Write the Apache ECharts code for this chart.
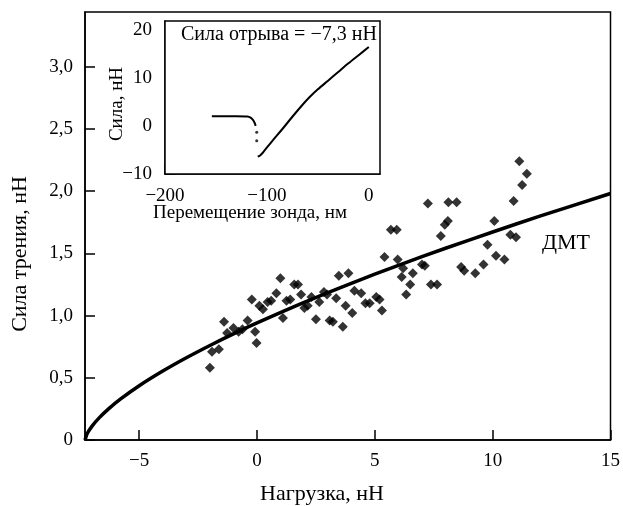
<!DOCTYPE html>
<html>
<head>
<meta charset="utf-8">
<script src="https://cdn.jsdelivr.net/npm/echarts@6/dist/echarts.min.js"></script>
<style>html,body{margin:0;padding:0;background:#fff}#c{width:623px;height:506px}</style>
</head>
<body>
<div id="c"></div>
<script>
// ---- main plot data ----
const dmtX = [-7.3, -7.2, -7.0, -6.7, -6.3, -5.8, -5.0, -4.0, -3.0, -2.0, -1.0, 0, 2, 4, 6, 8, 10, 12, 15];
const dmtY = [0, 0.054, 0.112, 0.178, 0.25, 0.328, 0.436, 0.554, 0.661, 0.760, 0.853, 0.941, 1.106, 1.259, 1.404, 1.541, 1.672, 1.799, 1.981];

const loadX = [-2.00, -1.91, -1.62, -1.40, -1.27, -1.00, -0.78, -0.62, -0.40, -0.22, -0.08, -0.02, 0.10, 0.25, 0.45, 0.60, 0.82, 0.99, 1.10, 1.25,
  1.41, 1.58, 1.74, 1.87, 2.01, 2.15, 2.31, 2.50, 2.64, 2.84, 2.97, 3.08, 3.22, 3.36, 3.47, 3.64, 3.76, 3.88, 4.04, 4.13,
  4.42, 4.60, 4.78, 5.06, 5.20, 5.30, 5.41, 5.68, 5.93, 5.97, 6.20, 6.14, 6.61, 6.50, 6.33, 7.00, 7.12, 7.25, 7.38, 7.64,
  7.80, 7.97, 8.10, 8.12, 8.47, 8.66, 8.79, 9.26, 9.61, 9.78, 10.07, 10.14, 10.50, 10.75, 10.99, 10.89, 11.25, 11.13, 11.45];
const frictionY = [0.58, 0.71, 0.73, 0.95, 0.86, 0.90, 0.87, 0.89, 0.96, 1.13, 0.87, 0.78, 1.08, 1.05, 1.11, 1.12, 1.18, 1.30, 0.98, 1.12,
  1.13, 1.25, 1.25, 1.17, 1.06, 1.08, 1.15, 0.97, 1.11, 1.19, 1.17, 0.96, 0.95, 1.14, 1.32, 0.91, 1.08, 1.34, 1.02, 1.20,
  1.18, 1.10, 1.10, 1.15, 1.13, 1.04, 1.47, 1.69, 1.69, 1.45, 1.38, 1.31, 1.34, 1.25, 1.17, 1.41, 1.40, 1.90, 1.25, 1.25,
  1.64, 1.73, 1.76, 1.91, 1.91, 1.39, 1.36, 1.34, 1.41, 1.57, 1.76, 1.48, 1.45, 1.65, 1.63, 1.92, 2.05, 2.24, 2.14];

// ---- inset data ----
const approachX = [-154, -130, -119, -116, -113.5, -112, -111];
const approachY = [2.0, 2.0, 1.95, 1.7, 1.2, 0.6, 0];
const jumpX = [-110, -110];
const jumpY = [-1.3, -3.1];
const retractX = [-109, -107, -105, -103, -95, -85, -75, -65, -58, -50, -40, -30, -20, -10, 0];
const retractY = [-6.4, -6.2, -5.8, -5.3, -3.2, -0.7, 1.9, 4.4, 6.0, 7.6, 9.4, 11.2, 13.0, 14.7, 16.4];

// ---- ticks ----
const mainXTicks = [-5, 0, 5, 10, 15];
const mainYTicks = [0, 0.5, 1.0, 1.5, 2.0, 2.5, 3.0];
const insetXTicks = [-200, -100, 0];
const insetYTicks = [-10, 0, 10, 20];

const zip = (a, b) => a.map((v, i) => [v, b[i]]);
const FONT = 'Liberation Serif';
const minus = v => (v < 0 ? '\u2212' + Math.abs(v) : String(v));
const comma = v => (v === 0 ? '0' : v.toFixed(1).replace('.', ','));

const lineStyle = { color: '#000', width: 1.5 };
const labelBase = { color: '#000', fontFamily: FONT, fontSize: 19 };

const chart = echarts.init(document.getElementById('c'), null, { renderer: 'canvas' });
chart.setOption({
  animation: false,
  backgroundColor: '#fff',
  grid: [
    { left: 85, right: 12, top: 12, bottom: 66, show: true, borderColor: '#000', borderWidth: 1.5, backgroundColor: 'transparent', z: 0 },
    { left: 165, top: 21, width: 215, height: 153, show: true, borderColor: '#000', borderWidth: 1.5, backgroundColor: '#fff', z: 5 }
  ],
  xAxis: [
    { type: 'value', gridIndex: 0, min: -7.3, max: 15,
      axisLine: { onZero: false, lineStyle }, splitLine: { show: false },
      axisTick: { inside: true, length: 10, lineStyle, customValues: mainXTicks },
      axisLabel: { ...labelBase, margin: 12, customValues: mainXTicks, formatter: minus } },
    { type: 'value', gridIndex: 1, min: -200, max: 11,
      axisLine: { onZero: false, lineStyle }, splitLine: { show: false },
      axisTick: { inside: true, length: 10, lineStyle, customValues: insetXTicks },
      axisLabel: { ...labelBase, margin: 13, customValues: insetXTicks, formatter: minus } }
  ],
  yAxis: [
    { type: 'value', gridIndex: 0, min: 0, max: 3.44,
      axisLine: { onZero: false, lineStyle }, splitLine: { show: false },
      axisTick: { inside: true, length: 10, lineStyle, customValues: mainYTicks },
      axisLabel: { ...labelBase, margin: 12, customValues: mainYTicks, formatter: comma } },
    { type: 'value', gridIndex: 1, min: -10, max: 21.8,
      axisLine: { onZero: false, lineStyle }, splitLine: { show: false },
      axisTick: { inside: true, length: 10, lineStyle, customValues: insetYTicks },
      axisLabel: { ...labelBase, margin: 13, customValues: insetYTicks, formatter: minus } }
  ],
  series: [
    { type: 'line', xAxisIndex: 0, yAxisIndex: 0, data: zip(dmtX, dmtY), smooth: 0.3, showSymbol: false,
      lineStyle: { color: '#000', width: 3.5 }, z: 3 },
    { type: 'scatter', xAxisIndex: 0, yAxisIndex: 0, data: zip(loadX, frictionY), symbol: 'diamond', symbolSize: 10,
      itemStyle: { color: '#000' }, z: 4 },
    { type: 'line', xAxisIndex: 1, yAxisIndex: 1, data: zip(approachX, approachY), smooth: 0.3, showSymbol: false,
      lineStyle: { color: '#000', width: 2 }, z: 6 },
    { type: 'scatter', xAxisIndex: 1, yAxisIndex: 1, data: zip(jumpX, jumpY), symbol: 'circle', symbolSize: 3,
      itemStyle: { color: '#000' }, z: 6 },
    { type: 'line', xAxisIndex: 1, yAxisIndex: 1, data: zip(retractX, retractY), smooth: 0.3, showSymbol: false,
      lineStyle: { color: '#000', width: 2 }, z: 6 }
  ],
  graphic: [
    { type: 'text', x: 181, y: 35, z: 10, style: { text: 'Сила отрыва = \u22127,3 нН', font: '20px "Liberation Serif"', fill: '#000', verticalAlign: 'middle' } },
    { type: 'text', x: 566, y: 243, z: 10, style: { text: 'ДМТ', font: '22px "Liberation Serif"', fill: '#000', align: 'center', verticalAlign: 'middle' } },
    { type: 'text', x: 322, y: 494, z: 10, style: { text: 'Нагрузка, нН', font: '22px "Liberation Serif"', fill: '#000', align: 'center', verticalAlign: 'middle' } },
    { type: 'text', x: 20, y: 254, rotation: Math.PI / 2, z: 10, style: { text: 'Сила трения, нН', font: '22px "Liberation Serif"', fill: '#000', align: 'center', verticalAlign: 'middle' } },
    { type: 'text', x: 250, y: 213, z: 10, style: { text: 'Перемещение зонда, нм', font: '19px "Liberation Serif"', fill: '#000', align: 'center', verticalAlign: 'middle' } },
    { type: 'text', x: 117, y: 104, rotation: Math.PI / 2, z: 10, style: { text: 'Сила, нН', font: '19px "Liberation Serif"', fill: '#000', align: 'center', verticalAlign: 'middle' } }
  ]
});
</script>
</body>
</html>
